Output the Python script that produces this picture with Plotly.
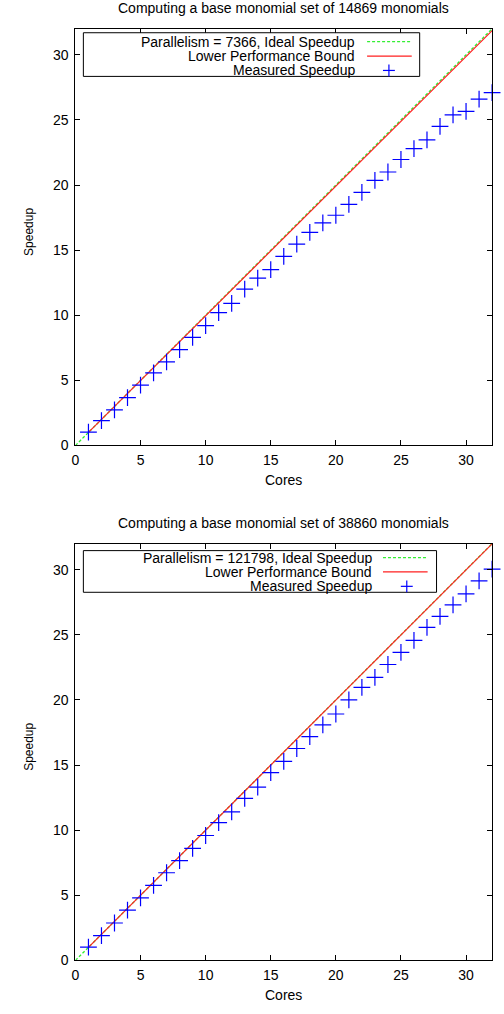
import plotly.graph_objects as go

# ---------------- data ----------------
cores = list(range(1, 33))
measured_top = [1.02, 1.90, 2.74, 3.68, 4.64, 5.58, 6.42, 7.36, 8.30, 9.21,
                10.20, 10.91, 12.00, 12.85, 13.50, 14.52, 15.46, 16.37, 17.10, 17.68,
                18.52, 19.43, 20.35, 21.00, 21.96, 22.80, 23.46, 24.50, 25.38, 25.66,
                26.60, 27.10]
measured_bottom = [1.02, 1.90, 2.87, 3.86, 4.80, 5.76, 6.73, 7.66, 8.60, 9.59,
                   10.58, 11.40, 12.44, 13.30, 14.42, 15.28, 16.27, 17.18, 18.09, 18.92,
                   20.00, 20.96, 21.74, 22.72, 23.66, 24.57, 25.58, 26.42, 27.30, 28.15,
                   29.15, 30.05]
titles = ["Computing a base monomial set of 14869 monomials",
          "Computing a base monomial set of 38860 monomials"]
parallelism = ["7366", "121798"]
ideal_x = [0, 32]
ideal_y = [0, 32]
bound_x = [1, 32]
bound_top = [1.0, 31.86]
bound_bottom = [1.0, 31.99]
tick_vals = [0, 5, 10, 15, 20, 25, 30]
x_label = "Cores"
y_label = "Speedup"
legend_labels = ["Ideal Speedup", "Lower Performance Bound", "Measured Speedup"]

# ---------------- styling ----------------
W, H = 504, 1014
FONT = "Liberation Sans, Arial, Helvetica, sans-serif"
FS = 14
GREEN = "#33ee33"
RED = "#ff2020"
BLUE = "#0000ff"


def px(x):
    return x / W


def py(y):
    return 1 - y / H


panels = [
    dict(meas=measured_top, bound=bound_top, top=29, bottom=449, title_y=8,
         leg=dict(x0=80, x1=419, y0=33, y1=77, tx=356, s0=366, s1=411, rows=[42, 56.5, 71], plus=388)),
    dict(meas=measured_bottom, bound=bound_bottom, top=548, bottom=968, title_y=527,
         leg=dict(x0=80, x1=436, y0=555, y1=597, tx=373, s0=382, s1=427, rows=[562, 576.5, 591], plus=406)),
]
LEFT, RIGHT = 72, 492

fig = go.Figure()
shapes = []
annotations = []

for i, p in enumerate(panels):
    xa = "x" if i == 0 else "x2"
    ya = "y" if i == 0 else "y2"
    fig.add_trace(go.Scatter(x=ideal_x, y=ideal_y, mode="lines", xaxis=xa, yaxis=ya,
                             line=dict(color=GREEN, width=1.3, dash="3px,2px"),
                             showlegend=False, hoverinfo="skip"))
    fig.add_trace(go.Scatter(x=bound_x, y=p["bound"], mode="lines", xaxis=xa, yaxis=ya,
                             line=dict(color=RED, width=1.2), showlegend=False, hoverinfo="skip"))
    fig.add_trace(go.Scatter(x=cores, y=p["meas"], mode="markers", xaxis=xa, yaxis=ya,
                             marker=dict(symbol="cross-thin", size=12,
                                         line=dict(color=BLUE, width=1.2)),
                             showlegend=False, cliponaxis=False))

    # title
    annotations.append(dict(text=titles[i], x=px((LEFT + RIGHT) / 2), y=py(p["title_y"]),
                            xref="paper", yref="paper", showarrow=False,
                            font=dict(size=FS, family=FONT, color="black"),
                            xanchor="center", yanchor="middle"))
    # axis titles
    annotations.append(dict(text=x_label, x=px((LEFT + RIGHT) / 2), y=py(p["bottom"] + 35),
                            xref="paper", yref="paper", showarrow=False,
                            font=dict(size=FS, family=FONT, color="black"),
                            xanchor="center", yanchor="middle"))
    annotations.append(dict(text=y_label, x=px(25), y=py((p["top"] + p["bottom"]) / 2 - 5),
                            xref="paper", yref="paper", showarrow=False, textangle=-90,
                            font=dict(size=12, family=FONT, color="black"),
                            xanchor="center", yanchor="middle"))

    # legend
    L = p["leg"]
    shapes.append(dict(type="rect", xref="paper", yref="paper",
                       x0=px(L["x0"]), x1=px(L["x1"]), y0=py(L["y0"]), y1=py(L["y1"]),
                       line=dict(color="black", width=1), fillcolor="white", layer="above"))
    texts = ["Parallelism = " + parallelism[i] + ", " + legend_labels[0],
             legend_labels[1], legend_labels[2]]
    for t, ry in zip(texts, L["rows"]):
        annotations.append(dict(text=t, x=px(L["tx"]), y=py(ry), xref="paper", yref="paper",
                                showarrow=False, xanchor="right", yanchor="middle",
                                font=dict(size=FS, family=FONT, color="black")))
    shapes.append(dict(type="line", xref="paper", yref="paper",
                       x0=px(L["s0"]), x1=px(L["s1"]), y0=py(L["rows"][0]), y1=py(L["rows"][0]),
                       line=dict(color=GREEN, width=1.3, dash="3px,2px"), layer="above"))
    shapes.append(dict(type="line", xref="paper", yref="paper",
                       x0=px(L["s0"]), x1=px(L["s1"]), y0=py(L["rows"][1]), y1=py(L["rows"][1]),
                       line=dict(color=RED, width=1.2), layer="above"))
    shapes.append(dict(type="line", xref="paper", yref="paper",
                       x0=px(L["plus"] - 6), x1=px(L["plus"] + 6), y0=py(L["rows"][2]), y1=py(L["rows"][2]),
                       line=dict(color=BLUE, width=1.2), layer="above"))
    shapes.append(dict(type="line", xref="paper", yref="paper",
                       x0=px(L["plus"]), x1=px(L["plus"]), y0=py(L["rows"][2] - 6), y1=py(L["rows"][2] + 6),
                       line=dict(color=BLUE, width=1.2), layer="above"))

axis_common = dict(range=[0, 32], showline=True, linecolor="black", linewidth=1,
                   mirror="ticks", ticks="inside", ticklen=5, tickwidth=1, tickcolor="black",
                   showgrid=False, zeroline=False, tickvals=tick_vals,
                   tickfont=dict(size=FS, family=FONT, color="black"))

fig.update_layout(
    width=W, height=H,
    margin=dict(l=0, r=0, t=0, b=0),
    paper_bgcolor="white", plot_bgcolor="white",
    showlegend=False,
    font=dict(family=FONT, size=FS, color="black"),
    xaxis=dict(domain=[px(LEFT), px(RIGHT)], anchor="y", ticklabelstandoff=2, **axis_common),
    yaxis=dict(domain=[py(panels[0]["bottom"]), py(panels[0]["top"])], anchor="x",
               ticklabelstandoff=3, **axis_common),
    xaxis2=dict(domain=[px(LEFT), px(RIGHT)], anchor="y2", ticklabelstandoff=2, **axis_common),
    yaxis2=dict(domain=[py(panels[1]["bottom"]), py(panels[1]["top"])], anchor="x2",
                ticklabelstandoff=3, **axis_common),
    shapes=shapes,
    annotations=annotations,
)

fig.write_html("out.html", config={"displayModeBar": False},
               post_script="document.body.style.margin='0px';")
